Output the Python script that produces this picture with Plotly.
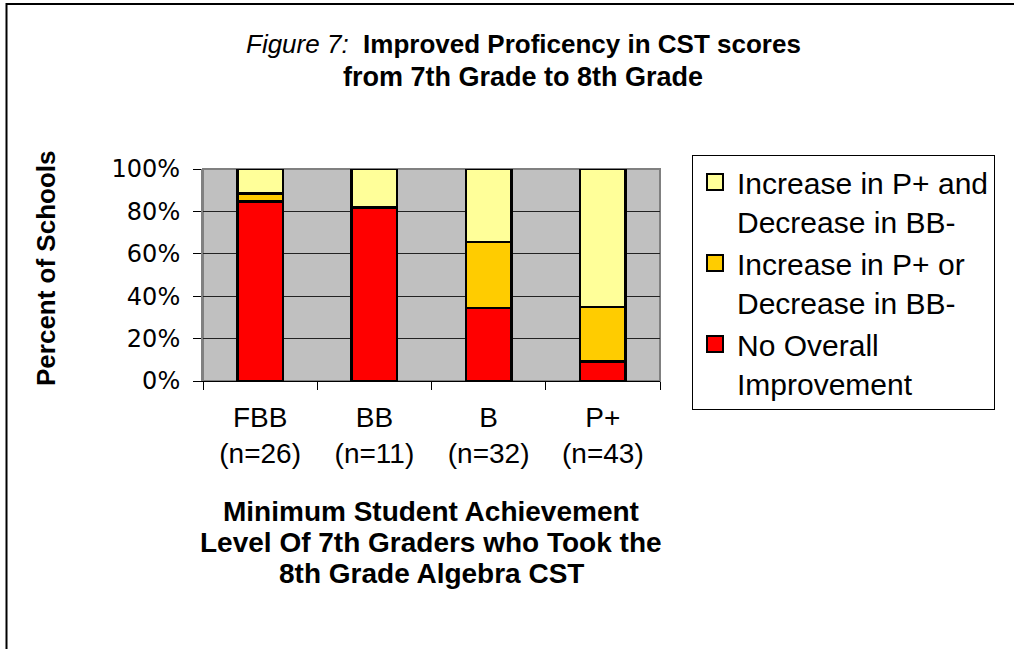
import plotly.graph_objects as go

categories = ["FBB<br>(n=26)", "BB<br>(n=11)", "B<br>(n=32)", "P+<br>(n=43)"]
no_improvement = [84.6, 81.8, 34.4, 9.3]
increase_or = [3.8, 0.0, 31.2, 25.6]
increase_and = [11.6, 18.2, 34.4, 65.1]
series_names = ["No Overall<br>Improvement",
                "Increase in P+ or<br>Decrease in BB-",
                "Increase in P+ and<br>Decrease in BB-"]
colors = ["#FF0000", "#FFCC00", "#FFFF99"]
y_ticks = [0, 20, 40, 60, 80, 100]
y_ticklabels = ["0%", "20%", "40%", "60%", "80%", "100%"]
x_title_lines = ["Minimum Student Achievement",
                 "Level Of 7th Graders who Took the",
                 "8th Grade Algebra CST"]

FONT = "Liberation Sans, Arial, sans-serif"
W, H = 1014, 649
L, R, T, B = 203, 660, 169, 381
pw, ph = R - L, B - T


def px_x(x):
    return (x - L) / pw


def px_y(y):
    return (B - y) / ph


fig = go.Figure()
for name, vals, col in zip(series_names, [no_improvement, increase_or, increase_and], colors):
    fig.add_trace(go.Bar(x=categories, y=vals, name=name, showlegend=False,
                         marker=dict(color=col, line=dict(color="black", width=2.5))))
# legend entries (square swatches)
for name, col in zip(series_names, colors):
    fig.add_trace(go.Scatter(x=[None], y=[None], mode="markers", name=name,
                             marker=dict(symbol="square", size=20, color=col,
                                         line=dict(color="black", width=2))))

annotations = [
    dict(xref="paper", yref="paper", x=px_x(523), y=px_y(44), xanchor="center", yanchor="middle",
         text="<i>Figure 7:</i>&nbsp;&nbsp;<b>Improved Proficency in CST scores</b>",
         showarrow=False, font=dict(size=26)),
    dict(xref="paper", yref="paper", x=px_x(523), y=px_y(77), xanchor="center", yanchor="middle",
         text="<b>from 7th Grade to 8th Grade</b>", showarrow=False, font=dict(size=27)),
    dict(xref="paper", yref="paper", x=px_x(46), y=px_y(268), xanchor="center", yanchor="middle",
         text="<b>Percent of Schools</b>", textangle=-90, showarrow=False, font=dict(size=26)),
]
for i, line in enumerate(x_title_lines):
    annotations.append(dict(xref="paper", yref="paper", x=px_x(431), y=px_y(511 + 31 * i),
                            xanchor="center", yanchor="middle", text="<b>" + line + "</b>",
                            showarrow=False, font=dict(size=28)))

fig.update_layout(
    width=W, height=H,
    margin=dict(l=L, r=W - R, t=T, b=H - B, pad=0),
    barmode="stack", bargap=0.6,
    plot_bgcolor="#C0C0C0", paper_bgcolor="white",
    font=dict(family=FONT, size=20, color="black"),
    showlegend=True,
    legend=dict(x=px_x(692), y=px_y(155), xanchor="left", yanchor="top",
                traceorder="reversed", bordercolor="black", borderwidth=1,
                font=dict(size=30, family=FONT), itemsizing="trace", valign="top",
                tracegroupgap=0, bgcolor="white", itemwidth=34),
    xaxis=dict(showgrid=False, ticks="outside", tickson="boundaries", ticklen=8,
               tickcolor="black", linecolor="black", showline=True,
               tickfont=dict(size=28), ticklabelstandoff=11),
    yaxis=dict(range=[0, 100], tickvals=y_ticks, ticktext=y_ticklabels,
               showgrid=True, gridcolor="#222222", gridwidth=1,
               ticks="outside", ticklen=8, tickcolor="black", ticklabelstandoff=8,
               showline=True, linecolor="#808080", linewidth=2,
               tickfont=dict(size=24, family="DejaVu Sans"), zeroline=False),
    shapes=[
        dict(type="rect", xref="paper", yref="paper", x0=0, x1=1, y0=0, y1=1,
             line=dict(color="#808080", width=2), layer="below"),
        dict(type="rect", xref="paper", yref="paper",
             x0=px_x(6.5), x1=px_x(1030), y0=px_y(670), y1=px_y(4),
             line=dict(color="black", width=2)),
    ],
    annotations=annotations,
)

fig.write_html("out.html", config={"displayModeBar": False},
               post_script="document.body.style.margin='0';")
